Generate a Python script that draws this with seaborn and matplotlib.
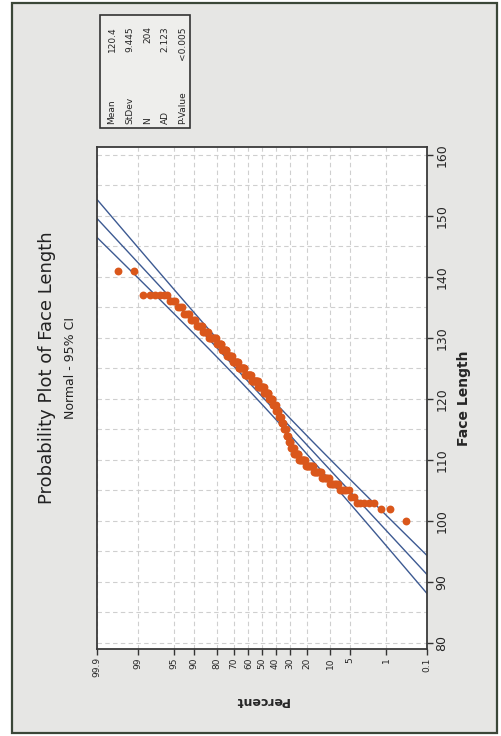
import numpy as np
import matplotlib
matplotlib.use("Agg")
import matplotlib.pyplot as plt
import seaborn as sns
from matplotlib.patches import Rectangle
from matplotlib.ticker import FixedLocator, MultipleLocator
from statistics import NormalDist

face_length = [100, 102, 103, 104, 105, 106, 107, 108, 109, 110, 111, 112, 113,
               114, 115, 116, 117, 118, 119, 120, 121, 122, 123, 124, 125, 126,
               127, 128, 129, 130, 131, 132, 133, 134, 135, 136, 137, 141]
counts = [1, 2, 5, 2, 5, 6, 6, 7, 8, 8, 6, 4, 3,
          3, 4, 3, 4, 4, 5, 6, 7, 9, 10, 10, 9, 8,
          7, 6, 6, 8, 5, 5, 4, 4, 3, 3, 6, 2]

# summary table shown in the box
stat_labels = ["Mean", "StDev", "N", "AD", "P-Value"]
stat_values = ["120.4", "9.445", "204", "2.123", "<0.005"]
mean, stdev, n = 120.4, 9.445, 204

percent_ticks = [99.9, 99, 95, 90, 80, 70, 60, 50, 40, 30, 20, 10, 5, 1, 0.1]
percent_labels = ["99.9", "99", "95", "90", "80", "70", "60", "50", "40",
                  "30", "20", "10", "5", "1", "0.1"]
length_ticks = [80, 90, 100, 110, 120, 130, 140, 150, 160]

W, H = 501, 736
nd = NormalDist()

# median ranks -> normal scores
obs = np.repeat(face_length, counts)
ranks = np.arange(1, len(obs) + 1)
pct = (ranks - 0.3) / (len(obs) + 0.4)
z_obs = np.array([nd.inv_cdf(p) for p in pct])

# fitted line and 95% CI
z_lo, z_hi = nd.inv_cdf(0.001), nd.inv_cdf(0.999)
z_line = np.linspace(z_lo, z_hi, 120)
fit = mean + stdev * z_line
half = 1.96 * stdev * np.sqrt(1 / n + z_line ** 2 / (2 * n))

sns.set_style("white")
plt.rcParams["font.family"] = ["DejaVu Sans"]

fig = plt.figure(figsize=(W / 100, H / 100), dpi=100, facecolor="white")
fig.patches.append(Rectangle((12 / W, 3 / H), 485 / W, 730 / H, transform=fig.transFigure,
                             facecolor="#e6e6e4", edgecolor="#3b4738", lw=1.6, zorder=-5))

ax = fig.add_axes([97 / W, 1 - 649 / H, 330 / W, 502 / H])
ax.set_facecolor("white")

line_col = "#3d5a92"
sns.lineplot(x=z_line, y=fit + half, color=line_col, lw=1, ax=ax)
sns.lineplot(x=z_line, y=fit, color=line_col, lw=1, ax=ax)
sns.lineplot(x=z_line, y=fit - half, color=line_col, lw=1, ax=ax)
sns.scatterplot(x=z_obs, y=obs, color="#da571b", s=32, linewidth=0, ax=ax, zorder=3)

ax.set_xlim(z_hi, z_lo)
ax.set_ylim(79.0, 161.3)

ax.xaxis.set_major_locator(FixedLocator([nd.inv_cdf(p / 100) for p in percent_ticks]))
ax.set_xticklabels(percent_labels, rotation=90, fontsize=6.5)
ax.yaxis.tick_right()
ax.yaxis.set_label_position("right")
ax.yaxis.set_major_locator(FixedLocator(length_ticks))
ax.yaxis.set_minor_locator(MultipleLocator(5))
ax.set_yticklabels([str(t) for t in length_ticks], rotation=90, va="center", fontsize=9)
ax.tick_params(axis="both", which="major", direction="out", length=4, width=1,
               color="#333333", pad=2, bottom=True, right=True, left=False)
ax.tick_params(axis="y", which="minor", length=0)

ax.grid(True, which="major", axis="x", color="#cfcfcf", ls=(0, (4, 3)), lw=0.8)
ax.grid(True, which="both", axis="y", color="#cfcfcf", ls=(0, (4, 3)), lw=0.8)
ax.set_axisbelow(True)
for s in ax.spines.values():
    s.set_color("#3a3a3a")
    s.set_linewidth(1.3)

ax.set_xlabel("Percent", rotation=180, fontsize=9, fontweight="bold", labelpad=12)
ax.set_ylabel("Face Length", rotation=90, fontsize=10, fontweight="bold", labelpad=6)

fig.text(47 / W, 0.5, "Probability Plot of Face Length", rotation=90,
         ha="center", va="center", fontsize=13, color="#222222")
fig.text(71 / W, 0.5, "Normal - 95% CI", rotation=90,
         ha="center", va="center", fontsize=9, color="#222222")

# summary box
fig.patches.append(Rectangle((100 / W, 1 - 128 / H), 90 / W, 113 / H, transform=fig.transFigure,
                             facecolor="#eeeeec", edgecolor="#333333", lw=1.2, zorder=1))
for i, (lab, val) in enumerate(zip(stat_labels, stat_values)):
    x = (112 + i * 17.7) / W
    fig.text(x, 1 - 124 / H, lab, rotation=90, rotation_mode="anchor",
             ha="left", va="center", fontsize=6.5, zorder=2)
    fig.text(x, 1 - 26 / H, val, rotation=90, rotation_mode="anchor",
             ha="right", va="center", fontsize=6.5, zorder=2)

fig.savefig("out.png", dpi=100, facecolor=fig.get_facecolor())
